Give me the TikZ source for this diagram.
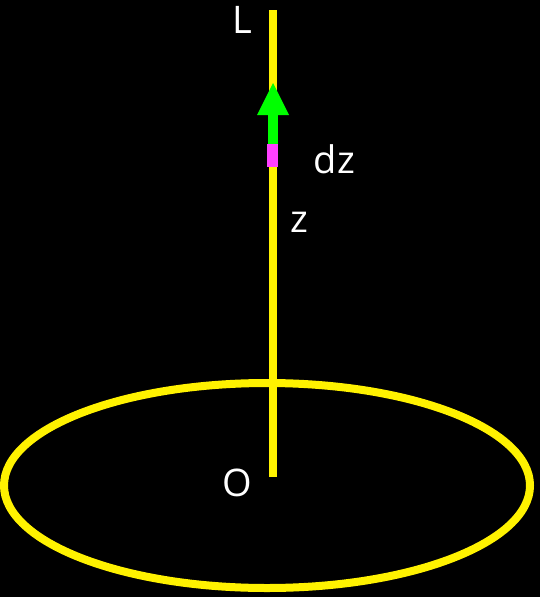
\documentclass[tikz,border=0pt]{standalone}
\usepackage{fontspec}
\setmainfont{Open Sans}
\begin{document}
\begin{tikzpicture}[x=1pt,y=-1pt,
  lbl/.style={text=white,inner sep=0pt,anchor=base,font=\fontsize{38}{45}\selectfont},
  yel/.style={draw=yellow,line width=8pt}]
\fill[black] (0,0) rectangle (540,597);
\useasboundingbox (0,0) rectangle (540,597);
% ellipse
\draw[draw=yellow,line width=8pt] (267,485.5) ellipse [x radius=263, y radius=102.5];
% vertical line
\coordinate (top) at (273,10);
\coordinate (bot) at (273,477);
\draw[yel] (top) -- (bot);
% arrow
\fill[green] (268,115) rectangle (278,152);
\fill[green] (257,115) -- (289,115) -- (273,83) -- cycle;
\fill[fill={rgb,255:red,255;green,64;blue,255}] (267,144) rectangle (278,167);
% labels
\node[lbl] (L) at (242,33) {L};
\node[lbl] (dz) at (334.5,173) {dz};
\node[lbl] (z) at (299.5,232) {z};
\node[lbl] (O) at (237.5,496) {O};
\end{tikzpicture}
\end{document}
